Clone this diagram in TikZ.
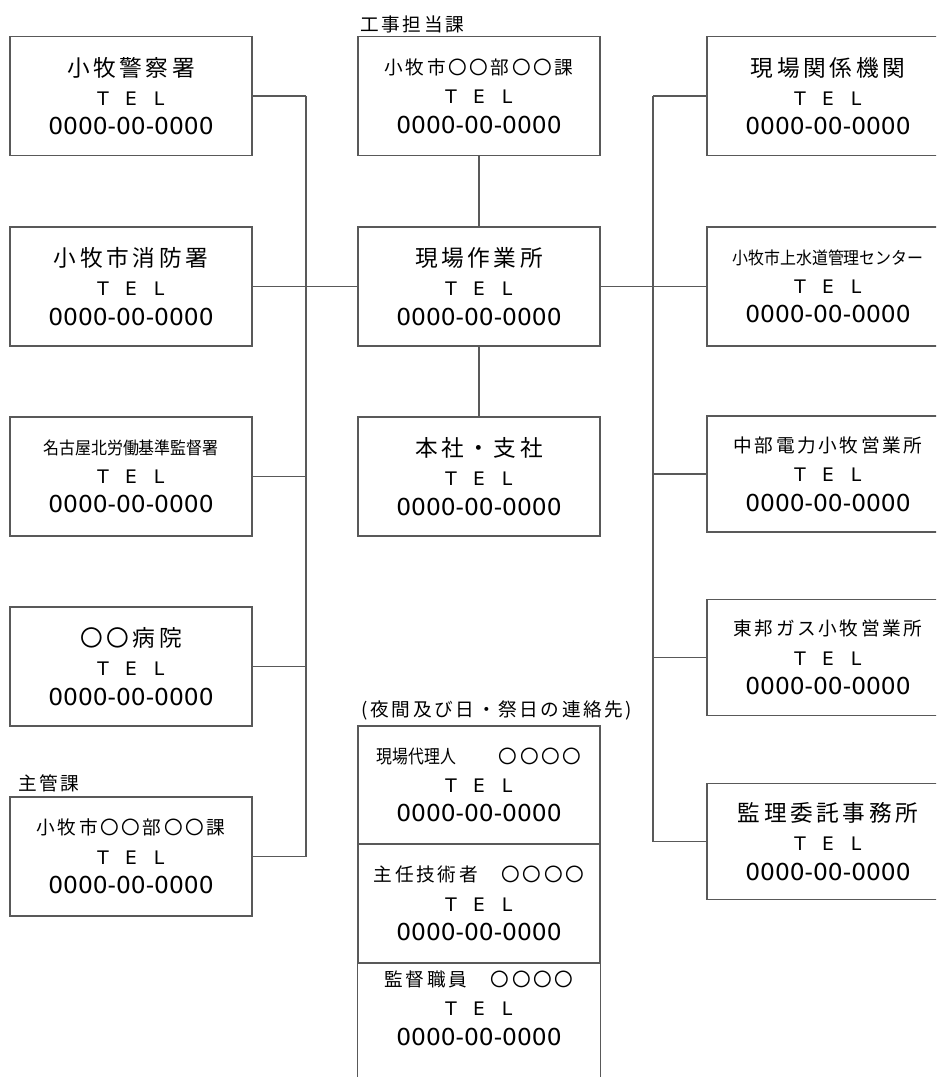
\documentclass[tikz,border=0pt]{standalone}
\usepackage{fontspec}
\usepackage{graphicx}
\setmainfont{DejaVu Sans}
\newfontfamily\jp{Noto Sans CJK JP}
\newfontfamily\jpsp[LetterSpace=16]{Noto Sans CJK JP}
\newfontfamily\jpmd[LetterSpace=14]{Noto Sans CJK JP}
\colorlet{lnc}{black!65}

\newcommand\bigttl[1]{{\jpsp\fontsize{17pt}{22pt}\selectfont #1}}
\newcommand\midttl[1]{{\jpmd\fontsize{14pt}{22pt}\selectfont #1}}
\newcommand\narttl[1]{\scalebox{0.92}[1]{\jp\fontsize{13pt}{22pt}\selectfont #1}}
\newcommand\telno{{\fontsize{14pt}{22pt}\selectfont\makebox[21pt]{T}\makebox[21pt]{E}\makebox[21pt]{L}}\\%
    {\fontsize{17.5pt}{22pt}\selectfont 0000-00-0000}}

\begin{document}
\begin{tikzpicture}[
        x=0.75pt, y=-0.75pt,
        box/.style={draw=lnc, line width=0.9pt, minimum width=181.5pt, minimum height=89.25pt,
            inner sep=0pt, align=center, font=\fontsize{13.5pt}{22pt}\selectfont},
        lowbox/.style={box, minimum height=87pt},
        conn/.style={lnc, line width=0.8pt},
        tag/.style={inner sep=0pt, font=\jpmd\fontsize{14pt}{22pt}\selectfont}
    ]
        \useasboundingbox (0,0) rectangle (936,1077);
        \clip (0,0) rectangle (936,1077);

        % left column
        \node[box] (L1) at (131,96) {\bigttl{小牧警察署}\\\telno};
        \node[box] (L2) at (131,286.5) {\bigttl{小牧市消防署}\\\telno};
        \node[box] (L3) at (131,476.5) {\narttl{名古屋北労働基準監督署}\\\telno};
        \node[box] (L4) at (131,666.5) {\bigttl{〇〇病院}\\\telno};
        \node[box] (L5) at (131,856.5) {\midttl{小牧市〇〇部〇〇課}\\\telno};
        \node[tag, anchor=west] (L5tag) at (18,783) {主管課};

        % middle column
        \node[box] (M1) at (479,96) {\midttl{小牧市〇〇部〇〇課}\\\telno};
        \node[box] (M2) at (479,286.5) {\bigttl{現場作業所}\\\telno};
        \node[box] (M3) at (479,476.5) {\bigttl{本社・支社}\\\telno};
        \node[tag, anchor=west] (M1tag) at (360,24.5) {工事担当課};

        % right column
        \node[box] (R1) at (828,96) {\bigttl{現場関係機関}\\\telno};
        \node[box] (R2) at (828,286.5) {\narttl{小牧市上水道管理センター}\\\telno};
        \node[lowbox] (R3) at (828,474) {\midttl{中部電力小牧営業所}\\\telno};
        \node[lowbox] (R4) at (828,657.5) {\midttl{東邦ガス小牧営業所}\\\telno};
        \node[lowbox] (R5) at (828,841.5) {\bigttl{監理委託事務所}\\\telno};

        % night and holiday contacts
        \node[tag] (Stag) at (497,710) {(夜間及び日・祭日の連絡先)};
        \node[box, minimum height=88.5pt] (S1) at (479,785)
            {\scalebox{0.85}[1]{\jp\fontsize{14pt}{22pt}\selectfont 現場代理人}\hspace{32pt}\midttl{〇〇〇〇}\\\telno};
        \node[box] (S2) at (479,903.5) {\midttl{主任技術者　〇〇〇〇}\\\telno};
        \draw[draw=lnc, line width=0.9pt] (S2.south west) -- ++(0,140);
        \draw[draw=lnc, line width=0.9pt] (S2.south east) -- ++(0,140);
        \node[inner sep=0pt, align=center, font=\fontsize{13.5pt}{22pt}\selectfont] (S3) at (479,1008)
            {\midttl{監督職員　〇〇〇〇}\\\telno};

        % connectors
        \coordinate (lbus) at (306,0);
        \coordinate (rbus) at (653,0);
        \foreach \i in {1,...,5} {
            \draw[conn] (L\i.east) -- (L\i.east -| lbus);
            \draw[conn] (R\i.west) -- (R\i.west -| rbus);
        }
        \draw[conn] (L1.east -| lbus) -- (L5.east -| lbus);
        \draw[conn] (R1.west -| rbus) -- (R5.west -| rbus);
        \draw[conn] (lbus |- M2.west) -- (M2.west);
        \draw[conn] (M2.east) -- (R2.west);
        \draw[conn] (M1.south) -- (M2.north);
        \draw[conn] (M2.south) -- (M3.north);
    \end{tikzpicture}
\end{document}
